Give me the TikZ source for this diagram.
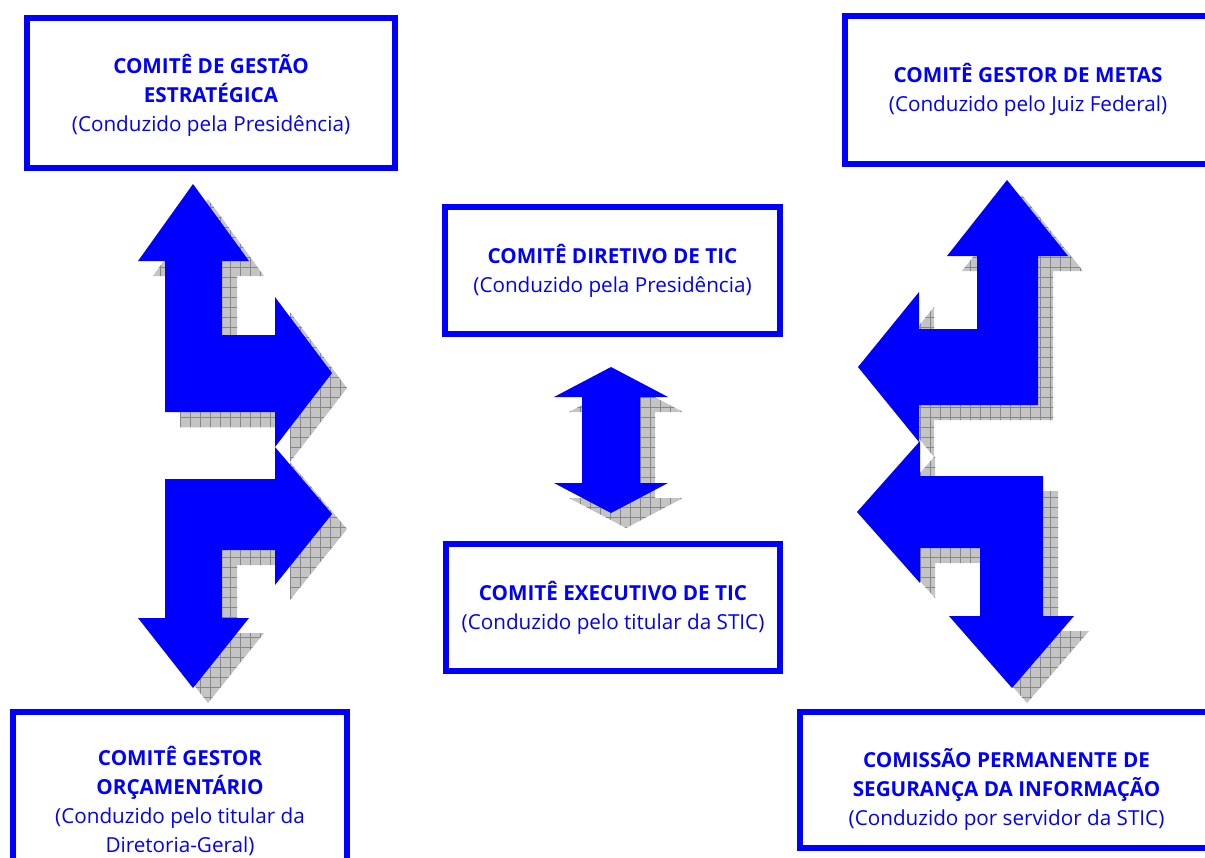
\documentclass[tikz,border=0pt]{standalone}
\usepackage{fontspec}
\setmainfont{Open Sans}
\usetikzlibrary{patterns.meta}
\definecolor{pblue}{RGB}{0,0,255}
\definecolor{shgray}{RGB}{196,196,196}
\definecolor{shline}{RGB}{135,135,135}
\begin{document}
\begin{tikzpicture}[x=0.75pt,y=-0.75pt,
  cbox/.style={draw=pblue,line width=4.5pt,fill=white,align=center,text=pblue,inner sep=0pt,
    font=\fontsize{15.5}{21.75}\selectfont},
  ctext/.style={align=center,text=pblue,inner sep=0pt,font=\fontsize{15.5}{21.75}\selectfont},
  bluearrow/.style={fill=pblue},
  shadowarrow/.style={fill=shgray,
    postaction={pattern={Lines[angle=0,distance=7.5pt,line width=0.5pt]},pattern color=shline},
    postaction={pattern={Lines[angle=90,distance=7.5pt,line width=0.5pt]},pattern color=shline}}]
\clip (0,0) rectangle (1205,857);
\fill[white] (0,0) rectangle (1205,857);

% shapes, shadow then blue
\def\ulshape{(193,184) -- (249,261) -- (222,261) -- (222,335) -- (275,335) -- (275,297) -- (332,373) -- (275,447) -- (275,412) -- (165,412) -- (165,261) -- (138,261) -- cycle}
\def\llshape{(165,479) -- (275,479) -- (275,447) -- (332,514) -- (275,585) -- (275,550) -- (222,550) -- (222,618) -- (249,618) -- (193,688) -- (138,618) -- (165,618) -- cycle}
\def\urshape{(1007,180) -- (1068,256) -- (1038,256) -- (1038,405) -- (919,405) -- (919,442) -- (858,367) -- (919,292) -- (919,329) -- (977,329) -- (977,256) -- (947,256) -- cycle}
\def\lrshape{(920,476) -- (1043,476) -- (1043,616) -- (1074,616) -- (1012,688) -- (949,616) -- (980,616) -- (980,548) -- (920,548) -- (920,583) -- (857,512) -- (920,441) -- cycle}
\def\cshape{(611,367) -- (668,397) -- (640,397) -- (640,483) -- (668,483) -- (611,513) -- (554,483) -- (582,483) -- (582,397) -- (554,397) -- cycle}

\begin{scope}[shift={(15,15)}]
\path[shadowarrow] \ulshape;
\path[shadowarrow] \llshape;
\path[shadowarrow] \urshape;
\path[shadowarrow] \lrshape;
\path[shadowarrow] \cshape;
\end{scope}
\path[bluearrow] \ulshape;
\path[bluearrow] \llshape;
\path[bluearrow] \urshape;
\path[bluearrow] \lrshape;
\path[bluearrow] \cshape;

\node[cbox,minimum width=368*0.75pt,minimum height=150*0.75pt] (ges) at (211,93) {};
\node[ctext] (gest) at (211,95)
  {\textbf{COMITÊ DE GESTÃO}\\\textbf{ESTRATÉGICA}\\(Conduzido pela Presidência)};
\node[cbox,minimum width=366*0.75pt,minimum height=148*0.75pt] (met) at (1028,90)
  {\textbf{COMITÊ GESTOR DE METAS}\\(Conduzido pelo Juiz Federal)};
\node[cbox,minimum width=335*0.75pt,minimum height=127*0.75pt] (dir) at (612.5,270.5)
  {\textbf{COMITÊ DIRETIVO DE TIC}\\(Conduzido pela Presidência)};
\node[cbox,minimum width=334*0.75pt,minimum height=127*0.75pt] (exe) at (613,607.5)
  {\textbf{COMITÊ EXECUTIVO DE TIC}\\(Conduzido pelo titular da STIC)};
\node[cbox,minimum width=334*0.75pt,minimum height=178*0.75pt] (orc) at (180,801)
  {\textbf{COMITÊ GESTOR}\\\textbf{ORÇAMENTÁRIO}\\(Conduzido pelo titular da\\Diretoria-Geral)};
\node[cbox,minimum width=413*0.75pt,minimum height=136*0.75pt] (seg) at (1006.5,780) {};
\node[ctext] (segt) at (1006.5,789)
  {\textbf{COMISSÃO PERMANENTE DE}\\\textbf{SEGURANÇA DA INFORMAÇÃO}\\(Conduzido por servidor da STIC)};
\end{tikzpicture}
\end{document}
